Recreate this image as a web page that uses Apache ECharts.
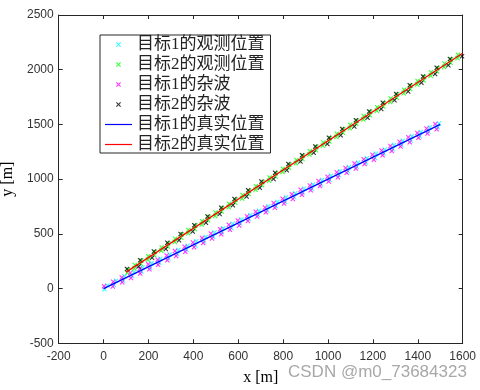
<!DOCTYPE html>
<html><head><meta charset="utf-8">
<script src="https://cdn.jsdelivr.net/npm/echarts@6/dist/echarts.min.js"></script>
<style>html,body{margin:0;padding:0;background:#fff}#c{width:480px;height:390px}</style>
</head><body><div id="c"></div>
<script>
const seriesNames = ['目标1的观测位置','目标2的观测位置','目标1的杂波','目标2的杂波','目标1的真实位置','目标2的真实位置'];
const xTicks = [-200,0,200,400,600,800,1000,1200,1400,1600];
const yTicks = [-500,0,500,1000,1500,2000,2500];

const obs1 = [[4,-6],[17,28],[46,33],[55,71],[86,74],[93,112],[127,114],[136,151],[168,155],[174,192],[207,193],[214,231],[248,236],[253,272],[289,274],[295,311],[328,313],[333,352],[369,355],[374,391],[408,394],[413,432],[447,433],[455,471],[488,474],[494,512],[527,514],[533,551],[569,553],[575,592],[608,594],[614,631],[647,636],[654,672],[688,673],[693,711],[729,714],[734,752],[767,755],[775,791],[808,793],[813,832],[849,834],[854,871],[887,875],[894,912],[928,913],[933,951],[968,954],[974,992],[1007,994],[1013,1031],[1048,1035],[1054,1072],[1089,1073],[1093,1111],[1127,1114],[1134,1152],[1168,1153],[1173,1191],[1209,1194],[1214,1232],[1247,1235],[1253,1271],[1288,1274],[1294,1312],[1327,1313],[1333,1351],[1368,1354],[1374,1392],[1409,1393],[1413,1431],[1447,1435],[1454,1471],[1488,1474],[1494,1509]];

const obs2 = [[106,145],[109,175],[137,184],[139,216],[166,226],[168,256],[197,264],[199,295],[226,305],[228,336],[257,345],[259,376],[286,384],[288,415],[317,425],[319,456],[346,464],[349,496],[377,505],[378,535],[406,544],[409,576],[437,585],[439,615],[466,625],[468,656],[497,664],[499,695],[526,705],[528,736],[557,744],[559,776],[586,785],[588,815],[617,824],[619,856],[646,865],[648,895],[677,904],[679,936],[706,945],[708,975],[737,985],[739,1016],[766,1024],[768,1055],[797,1065],[799,1096],[826,1104],[828,1135],[857,1145],[859,1176],[886,1184],[888,1215],[917,1225],[919,1256],[946,1264],[948,1295],[977,1305],[979,1336],[1006,1344],[1008,1375],[1037,1385],[1039,1416],[1066,1424],[1068,1455],[1097,1465],[1099,1496],[1126,1504],[1128,1535],[1157,1545],[1159,1576],[1186,1584],[1188,1615],[1217,1625],[1219,1656],[1246,1664],[1248,1695],[1277,1705],[1279,1736],[1306,1744],[1308,1775],[1337,1785],[1339,1816],[1366,1824],[1368,1855],[1397,1865],[1399,1896],[1426,1904],[1428,1935],[1457,1945],[1459,1976],[1486,1984],[1488,2015],[1517,2025],[1519,2056],[1546,2064],[1548,2095],[1577,2105],[1579,2136],[1606,2144]];

const clutter1 = [[2,21],[41,19],[43,62],[83,58],[81,101],[122,97],[119,142],[163,138],[161,181],[204,177],[199,222],[243,217],[241,263],[284,258],[281,302],[323,298],[318,343],[364,337],[361,383],[403,378],[398,422],[444,417],[439,463],[483,458],[478,503],[524,497],[519,542],[563,538],[558,583],[604,577],[598,623],[643,617],[639,662],[684,658],[678,703],[723,697],[719,742],[763,738],[758,783],[804,777],[798,822],[843,818],[839,862],[884,857],[878,903],[923,898],[919,942],[964,937],[958,983],[1003,978],[998,1022],[1044,1017],[1039,1063],[1083,1058],[1078,1102],[1124,1097],[1118,1143],[1163,1138],[1159,1182],[1204,1177],[1198,1223],[1243,1218],[1239,1262],[1284,1257],[1278,1303],[1323,1298],[1319,1342],[1364,1337],[1358,1383],[1403,1378],[1398,1422],[1443,1417],[1439,1462],[1484,1457],[1478,1503]];

const clutter2 = [[104,178],[156,202],[163,259],[216,281],[224,338],[277,362],[284,419],[336,441],[343,498],[397,522],[404,579],[456,601],[463,658],[517,682],[524,739],[576,761],[583,818],[637,842],[644,899],[696,921],[703,978],[757,1002],[764,1059],[816,1081],[823,1138],[877,1162],[884,1219],[936,1241],[943,1298],[997,1322],[1004,1379],[1056,1401],[1063,1458],[1117,1482],[1124,1539],[1176,1561],[1183,1618],[1237,1642],[1244,1699],[1296,1721],[1303,1778],[1357,1802],[1364,1859],[1416,1881],[1423,1938],[1477,1962],[1484,2019],[1536,2041],[1543,2098],[1597,2122]];

const true1 = [[0,0],[1500,1500]];
const true2 = [[100,150],[1600,2150]];

const X = 'path://M0,1.5L1.5,0L5,3.5L8.5,0L10,1.5L6.5,5L10,8.5L8.5,10L5,6.5L1.5,10L0,8.5L3.5,5Z';
const LINEICON = 'path://M0,0L27,0L27,1.2L0,1.2Z';
const axisColor = '#262626';
const xMin = xTicks[0], xMax = xTicks[xTicks.length-1];
const yMin = yTicks[0], yMax = yTicks[yTicks.length-1];
const plain = v => String(v);

function baseAxis(pos, showLabel, extra) {
  return Object.assign({
    type: 'value', position: pos,
    axisLine: {show: true, onZero: false, lineStyle: {color: axisColor, width: 1}},
    axisTick: {show: true, inside: true, length: 4, lineStyle: {color: axisColor}},
    axisLabel: {show: showLabel, formatter: plain},
    splitLine: {show: false}
  }, extra);
}

const chart = echarts.init(document.getElementById('c'), null, {renderer: 'canvas'});
const scat = (name, data, color) => ({
  name, type: 'scatter', data, symbol: X, symbolSize: 5,
  itemStyle: {color}, emphasis: {disabled: true}, animation: false
});
const line = (name, data, color) => ({
  name, type: 'line', data, symbol: 'none', showSymbol: false,
  lineStyle: {color, width: 1.3}, itemStyle: {color}, animation: false, z: 3
});

chart.setOption({
  animation: false,
  grid: {left: 58.7, right: 17.3, top: 15, bottom: 46.7, containLabel: false, outerBoundsMode: 'none'},
  xAxis: [
    baseAxis('bottom', true, {min: xMin, max: xMax, interval: 200,
      name: 'x [m]', nameLocation: 'middle', nameGap: 26,
      nameTextStyle: {fontFamily: 'Liberation Serif', fontSize: 16, color: '#000'},
      axisLabel: {show: true, formatter: plain, color: '#333', fontFamily: 'Liberation Sans', fontSize: 12, margin: 7}}),
    baseAxis('top', false, {min: xMin, max: xMax, interval: 200})
  ],
  yAxis: [
    baseAxis('left', true, {min: yMin, max: yMax, interval: 500,
      name: 'y [m]', nameLocation: 'middle', nameGap: 35,
      nameTextStyle: {fontFamily: 'Liberation Serif', fontSize: 16, color: '#000'},
      axisLabel: {show: true, formatter: plain, color: '#333', fontFamily: 'Liberation Sans', fontSize: 12, margin: 5}}),
    baseAxis('right', false, {min: yMin, max: yMax, interval: 500})
  ],
  legend: {
    orient: 'vertical', left: 100, top: 35,
    data: [
      {name: seriesNames[0]}, {name: seriesNames[1]}, {name: seriesNames[2]}, {name: seriesNames[3]},
      {name: seriesNames[4], icon: LINEICON}, {name: seriesNames[5], icon: LINEICON}
    ],
    itemWidth: 27, itemHeight: 5, itemGap: 3,
    padding: [1, 6, 0, 5],
    backgroundColor: '#fff', borderColor: axisColor, borderWidth: 1,
    selectedMode: false,
    textStyle: {fontFamily: "'Liberation Serif','Noto Sans CJK SC'", fontSize: 17, lineHeight: 17, color: '#222'}
  },
  series: [
    scat(seriesNames[0], obs1, '#00ffff'),
    scat(seriesNames[1], obs2, '#00ff00'),
    scat(seriesNames[2], clutter1, '#ff00ff'),
    scat(seriesNames[3], clutter2, '#000000'),
    line(seriesNames[4], true1, '#0000ff'),
    line(seriesNames[5], true2, '#ff0000')
  ],
  graphic: [{
    type: 'text', left: 288, top: 364,
    style: {text: 'CSDN @m0_73684323', fontFamily: 'Liberation Sans', fontSize: 17, fill: '#a8a8a8'}
  }]
});
</script></body></html>
